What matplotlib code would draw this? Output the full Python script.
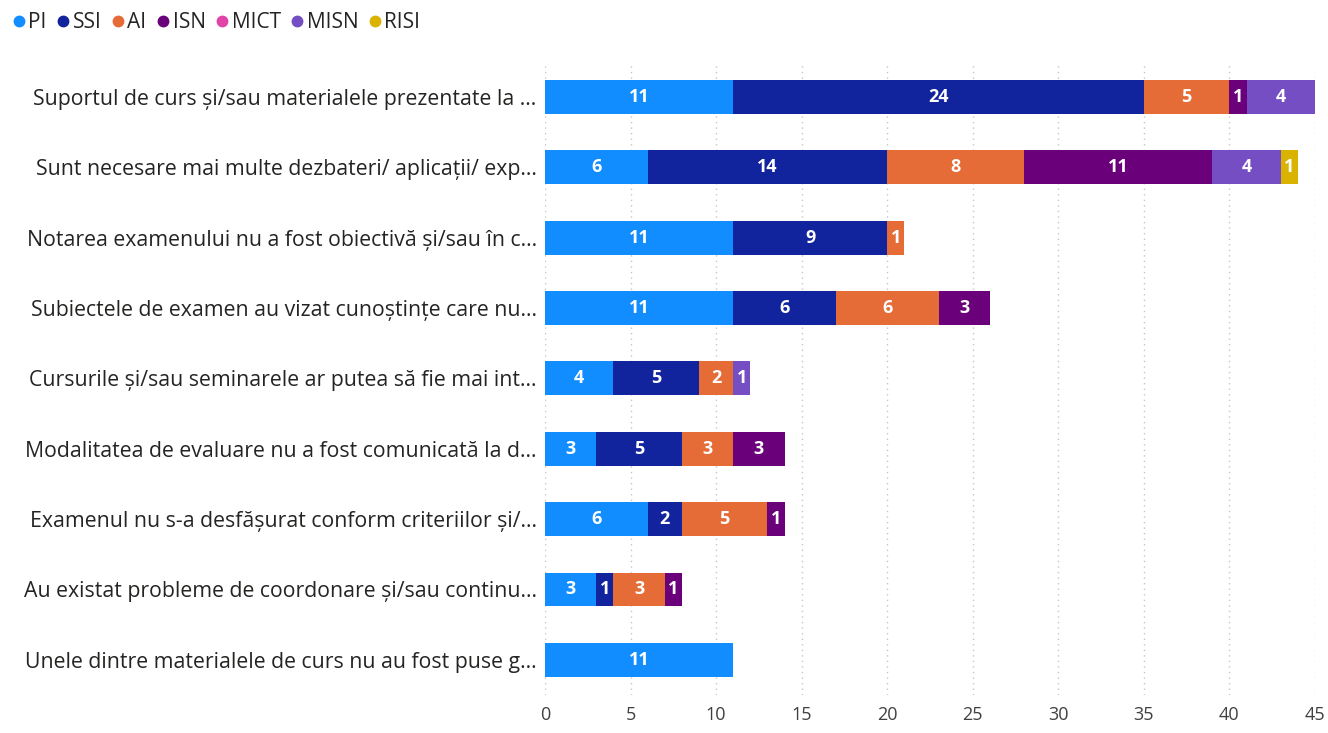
import numpy as np
import matplotlib.pyplot as plt
from matplotlib.lines import Line2D

plt.rcParams['font.family'] = ['Open Sans', 'DejaVu Sans']

questions = ['Suportul de curs și/sau materialele prezentate la ...',
             'Sunt necesare mai multe dezbateri/ aplicații/ exp...',
             'Notarea examenului nu a fost obiectivă și/sau în c...',
             'Subiectele de examen au vizat cunoștințe care nu...',
             'Cursurile și/sau seminarele ar putea să fie mai int...',
             'Modalitatea de evaluare nu a fost comunicată la d...',
             'Examenul nu s-a desfășurat conform criteriilor și/...',
             'Au existat probleme de coordonare și/sau continu...',
             'Unele dintre materialele de curs nu au fost puse g...']

series = ['PI', 'SSI', 'AI', 'ISN', 'MICT', 'MISN', 'RISI']
colors = ['#118DFF', '#12239E', '#E66C37', '#6B007B', '#E044A7', '#744EC2', '#D9B300']

PI   = [11, 6, 11, 11, 4, 3, 6, 3, 11]
SSI  = [24, 14, 9, 6, 5, 5, 2, 1, 0]
AI   = [5, 8, 1, 6, 2, 3, 5, 3, 0]
ISN  = [1, 11, 0, 3, 0, 3, 1, 1, 0]
MICT = [0, 0, 0, 0, 0, 0, 0, 0, 0]
MISN = [4, 4, 0, 0, 1, 0, 0, 0, 0]
RISI = [0, 1, 0, 0, 0, 0, 0, 0, 0]

values = [PI, SSI, AI, ISN, MICT, MISN, RISI]

fig = plt.figure(figsize=(13.28, 7.33), dpi=100)
ax = fig.add_axes([0.4104, 0.052, 0.5798, 0.8636])

y = np.arange(len(questions))
left = np.zeros(len(questions))
for name, vals, col in zip(series, values, colors):
    vals = np.array(vals, dtype=float)
    bars = ax.barh(y, vals, left=left, height=0.48, color=col, label=name)
    for b, v in zip(bars, vals):
        if v > 0:
            ax.text(b.get_x() + b.get_width() / 2, b.get_y() + b.get_height() / 2,
                    '%d' % v, ha='center', va='center', color='white',
                    fontsize=13, fontweight='bold')
    left += vals

ax.set_xlim(0, 45)
ax.set_ylim(len(questions) - 0.5, -0.5)
ax.set_yticks(y)
ax.set_yticklabels(questions, fontsize=15.3, color='#252423')
ax.set_xticks(np.arange(0, 46, 5))
ax.tick_params(axis='x', labelsize=13, length=0, pad=8)
ax.tick_params(axis='y', length=0, pad=6)
for lab in ax.get_xticklabels():
    lab.set_color('#404040')
ax.xaxis.grid(True, linestyle=(0, (1, 3)), color='#C8C6C4', linewidth=1)
ax.set_axisbelow(True)
for s in ax.spines.values():
    s.set_visible(False)

handles = [Line2D([], [], marker='o', linestyle='', color=c, markersize=7.5) for c in colors]
fig.legend(handles, series, loc='upper left', bbox_to_anchor=(0.0, 1.0), ncol=7,
           frameon=False, fontsize=15, handlelength=0.6, handletextpad=0.15,
           columnspacing=0.5, borderaxespad=0.2, labelcolor='#252423')

fig.savefig('out.png', dpi=100)
